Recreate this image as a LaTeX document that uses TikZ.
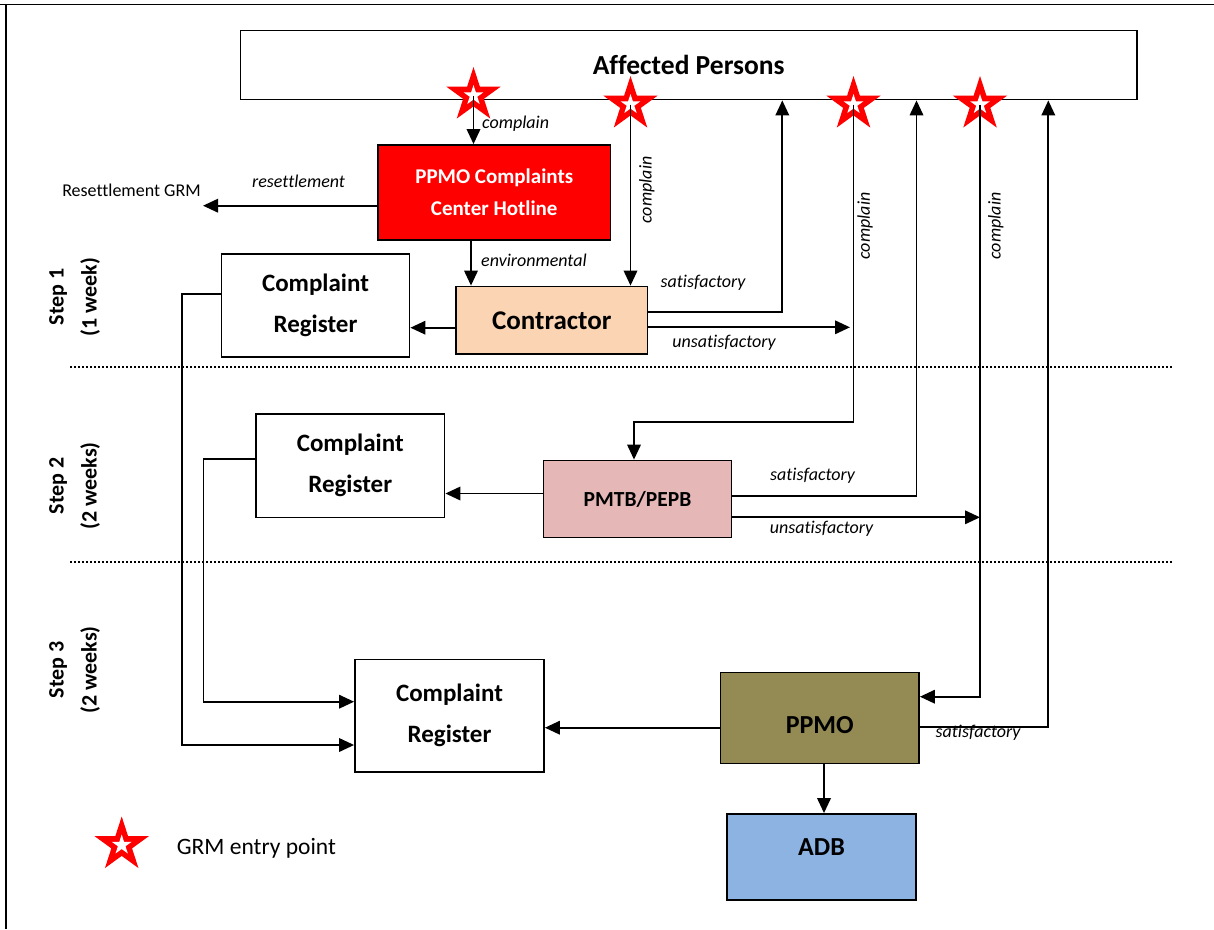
\documentclass[tikz,border=0pt]{standalone}
\usepackage{fontspec}
\setmainfont{Carlito}[Ligatures=NoCommon]
\usetikzlibrary{arrows.meta,shapes.geometric}
\definecolor{hotred}{HTML}{FF0000}
\definecolor{peach}{HTML}{FBD4B4}
\definecolor{rose}{HTML}{E5B8B7}
\definecolor{olive}{HTML}{948A54}
\definecolor{skyb}{HTML}{8DB3E2}
\begin{document}
\begin{tikzpicture}[x=1pt,y=-1pt,
  box/.style={draw, line width=1.8pt, inner sep=0pt, align=center},
  arr/.style={line width=1.9pt, -{Triangle[length=15pt,width=13.5pt]}},
  lbl/.style={font=\fontsize{18}{20}\selectfont\itshape, inner sep=0pt},
  bigstar/.style={star, star points=5, star point ratio=2.618, minimum size=57pt, inner sep=0pt, fill=red, draw=none},
  smallstar/.style={star, star points=5, star point ratio=2.618, minimum size=21pt, inner sep=0pt, fill=white, draw=none},
  steplbl/.style={font=\bfseries\fontsize{22}{33}\selectfont, rotate=90, align=center, inner sep=0pt},
  dots/.style={line width=1.8pt, dash pattern=on 2pt off 2pt}]
\useasboundingbox (0,0) rectangle (1214,929);
% frame
\draw[line width=1.8pt] (0,4.5) -- (1214,4.5);
\draw[line width=1.8pt] (6,4.5) -- (6,929);
% dotted separators
\draw[dots] (70,366.7) -- (1172,366.7);
\draw[dots] (70,561.7) -- (1172,561.7);
% step labels
\node[steplbl] (st1) at (74.5,297) {Step 1\\(1 week)};
\node[steplbl] (st2) at (74.5,486) {Step 2\\(2 weeks)};
\node[steplbl] (st3) at (74.5,670) {Step 3\\(2 weeks)};
% boxes
\node[box, minimum width=896.5pt, minimum height=69pt, font=\bfseries\fontsize{27.5}{30}\selectfont] (aff) at (688.75,65) {Affected Persons};
\node[box, fill=hotred, text=white, minimum width=232.5pt, minimum height=95pt, font=\bfseries\fontsize{21}{32}\selectfont] (hot) at (494.25,192.5) {PPMO Complaints\\Center Hotline};
\node[box, fill=peach, minimum width=191.5pt, minimum height=67.5pt, font=\bfseries\fontsize{27}{30}\selectfont] (con) at (551.75,320.25) {Contractor};
\node[box, minimum width=188pt, minimum height=103pt, font=\bfseries\fontsize{25}{41}\selectfont] (cr1) at (315.5,305.5) {Complaint\\Register};
\node[box, minimum width=188.5pt, minimum height=103.5pt, font=\bfseries\fontsize{25}{41}\selectfont] (cr2) at (350.25,465.75) {Complaint\\Register};
\node[box, minimum width=189pt, minimum height=112.5pt, font=\bfseries\fontsize{25}{41}\selectfont] (cr3) at (449.5,715.75) {Complaint\\Register};
\node[box, fill=rose, minimum width=188pt, minimum height=77pt, font=\bfseries\fontsize{21.5}{24}\selectfont] (pmtb) at (637.5,499) {PMTB/PEPB};
\node[box, fill=olive, minimum width=198.5pt, minimum height=91pt, text height=31pt, text depth=0pt, font=\bfseries\fontsize{26}{28}\selectfont] (ppmo) at (819.75,718) {PPMO};
\node[box, fill=skyb, minimum width=189pt, minimum height=86pt, text height=17pt, text depth=20pt, font=\bfseries\fontsize{26}{28}\selectfont] (adb) at (821.5,857) {ADB};
\node[font=\fontsize{18}{20}\selectfont, inner sep=0pt] (rgrm) at (131.5,190) {Resettlement GRM};
% stars
\node[bigstar] (s1) at (473.5,95.5) {};
\node[smallstar] (s1i) at (s1.center) {};
\node[bigstar] (s2) at (630.5,104.5) {};
\node[smallstar] (s2i) at (s2.center) {};
\node[bigstar] (s3) at (853.5,104.5) {};
\node[smallstar] (s3i) at (s3.center) {};
\node[bigstar] (s4) at (980,104.5) {};
\node[smallstar] (s4i) at (s4.center) {};
\node[bigstar] (ls) at (121.7,845) {};
\node[smallstar] (lsi) at (ls.center) {};
\node[anchor=west, font=\fontsize{23.5}{26}\selectfont, inner sep=0pt] (lt) at (176.7,848) {GRM entry point};
% helper coordinates
\coordinate (rtip) at (203,205.7);
\coordinate (env) at (471,0);
\coordinate (k1) at (0,327.7);
\coordinate (sat1) at (782.3,311.7);
\coordinate (uns1) at (850,327.3);
\coordinate (t3) at (853.5,421.7);
\coordinate (p3) at (634,421.7);
\coordinate (sat2) at (916.5,495.7);
\coordinate (uns2) at (980,517.3);
\coordinate (k2) at (0,493.5);
\coordinate (t4) at (980,696.7);
\coordinate (sat3) at (1048.3,727.3);
\coordinate (k3) at (0,727.7);
\coordinate (a1) at (824,0);
\coordinate (l1) at (182,294.3);
\coordinate (l1b) at (182,745);
\coordinate (l2) at (203.5,459.3);
\coordinate (l2b) at (203.5,701.7);
% connectors
\draw[arr] (s1.center) -- (s1.center |- hot.north);
\node[lbl, anchor=west] at (482,123.5) {complain};
\draw[arr] (hot.west |- rtip) -- (rtip);
\node[lbl] at (298.5,181.5) {resettlement};
\draw[arr] (hot.south -| env) -- (con.north -| env);
\node[lbl, anchor=west] at (481,260) {environmental};
\draw[arr] (s2.center) -- (s2.center |- con.north);
\node[lbl, rotate=90] at (646.7,190) {complain};
\draw[arr] (con.west |- k1) -- (cr1.east |- k1);
\draw[arr] (con.east |- sat1) -- (sat1) -- (sat1 |- aff.south);
\node[lbl] at (703,283) {satisfactory};
\draw[arr] (con.east |- uns1) -- (uns1);
\node[lbl] at (724,343) {unsatisfactory};
\draw[arr] (s3.center) -- (t3) -- (p3) -- (p3 |- pmtb.north);
\node[lbl, rotate=90] at (865,226) {complain};
\draw[arr] (pmtb.east |- sat2) -- (sat2) -- (sat2 |- aff.south);
\node[lbl] at (812.5,476) {satisfactory};
\draw[arr] (pmtb.east |- uns2) -- (uns2);
\node[lbl] at (821.5,529) {unsatisfactory};
\draw[arr] (pmtb.west |- k2) -- (cr2.east |- k2);
\draw[arr] (s4.center) -- (t4) -- (ppmo.east |- t4);
\node[lbl, rotate=90] at (995.7,226) {complain};
\draw[arr] (ppmo.east |- sat3) -- (sat3) -- (sat3 |- aff.south);
\node[lbl] at (978,733) {satisfactory};
\draw[arr] (ppmo.west |- k3) -- (cr3.east |- k3);
\draw[arr] (ppmo.south -| a1) -- (adb.north -| a1);
\draw[arr] (cr1.west |- l1) -- (l1) -- (l1b) -- (cr3.west |- l1b);
\draw[arr] (cr2.west |- l2) -- (l2) -- (l2b) -- (cr3.west |- l2b);
\end{tikzpicture}
\end{document}
